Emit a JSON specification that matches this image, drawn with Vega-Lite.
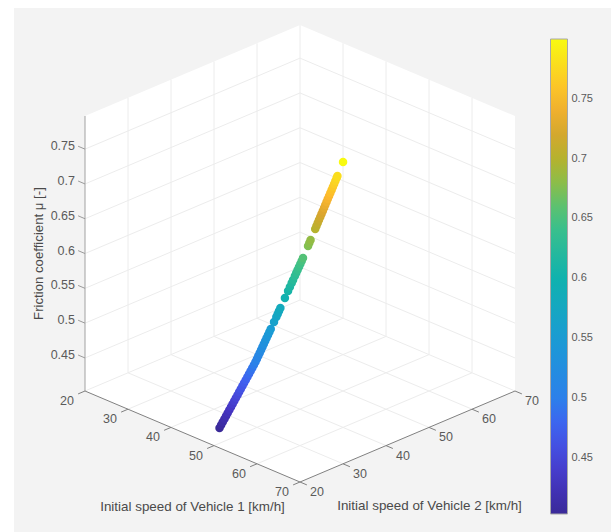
{"$schema":"https://vega.github.io/schema/vega-lite/v6.json","width":597,"height":524,"padding":{"left":14,"top":8,"right":0,"bottom":0},"autosize":"none","background":"white","view":{"fill":"#f3f3f3","stroke":null},
"config":{"text":{"font":"Liberation Sans"},"legend":{"labelFont":"Liberation Sans"}},
"data":{"values":[
{"set":"panel","v1":20,"v2":20,"mu":0.7975,"v1e":20,"v2e":20,"mue":0.4025},
{"set":"panel","v1":20,"v2":70,"mu":0.7975,"v1e":70,"v2e":20,"mue":0.4025},
{"set":"panel","v1":70,"v2":70,"mu":0.7975,"v1e":70,"v2e":70,"mue":0.4025},
{"set":"grid","v1":20,"v2":30,"mu":0.4025,"v1e":20,"v2e":30,"mue":0.7975},
{"set":"grid","v1":20,"v2":40,"mu":0.4025,"v1e":20,"v2e":40,"mue":0.7975},
{"set":"grid","v1":20,"v2":50,"mu":0.4025,"v1e":20,"v2e":50,"mue":0.7975},
{"set":"grid","v1":20,"v2":60,"mu":0.4025,"v1e":20,"v2e":60,"mue":0.7975},
{"set":"grid","v1":20,"v2":70,"mu":0.4025,"v1e":20,"v2e":70,"mue":0.7975},
{"set":"grid","v1":30,"v2":70,"mu":0.4025,"v1e":30,"v2e":70,"mue":0.7975},
{"set":"grid","v1":40,"v2":70,"mu":0.4025,"v1e":40,"v2e":70,"mue":0.7975},
{"set":"grid","v1":50,"v2":70,"mu":0.4025,"v1e":50,"v2e":70,"mue":0.7975},
{"set":"grid","v1":60,"v2":70,"mu":0.4025,"v1e":60,"v2e":70,"mue":0.7975},
{"set":"grid","v1":20,"v2":20,"mu":0.45,"v1e":20,"v2e":70,"mue":0.45},
{"set":"grid","v1":20,"v2":20,"mu":0.5,"v1e":20,"v2e":70,"mue":0.5},
{"set":"grid","v1":20,"v2":20,"mu":0.55,"v1e":20,"v2e":70,"mue":0.55},
{"set":"grid","v1":20,"v2":20,"mu":0.6,"v1e":20,"v2e":70,"mue":0.6},
{"set":"grid","v1":20,"v2":20,"mu":0.65,"v1e":20,"v2e":70,"mue":0.65},
{"set":"grid","v1":20,"v2":20,"mu":0.7,"v1e":20,"v2e":70,"mue":0.7},
{"set":"grid","v1":20,"v2":20,"mu":0.75,"v1e":20,"v2e":70,"mue":0.75},
{"set":"grid","v1":20,"v2":70,"mu":0.45,"v1e":70,"v2e":70,"mue":0.45},
{"set":"grid","v1":20,"v2":70,"mu":0.5,"v1e":70,"v2e":70,"mue":0.5},
{"set":"grid","v1":20,"v2":70,"mu":0.55,"v1e":70,"v2e":70,"mue":0.55},
{"set":"grid","v1":20,"v2":70,"mu":0.6,"v1e":70,"v2e":70,"mue":0.6},
{"set":"grid","v1":20,"v2":70,"mu":0.65,"v1e":70,"v2e":70,"mue":0.65},
{"set":"grid","v1":20,"v2":70,"mu":0.7,"v1e":70,"v2e":70,"mue":0.7},
{"set":"grid","v1":20,"v2":70,"mu":0.75,"v1e":70,"v2e":70,"mue":0.75},
{"set":"grid","v1":20,"v2":20,"mu":0.4025,"v1e":20,"v2e":70,"mue":0.4025},
{"set":"grid","v1":20,"v2":70,"mu":0.4025,"v1e":70,"v2e":70,"mue":0.4025},
{"set":"grid","v1":30,"v2":20,"mu":0.4025,"v1e":30,"v2e":70,"mue":0.4025},
{"set":"grid","v1":40,"v2":20,"mu":0.4025,"v1e":40,"v2e":70,"mue":0.4025},
{"set":"grid","v1":50,"v2":20,"mu":0.4025,"v1e":50,"v2e":70,"mue":0.4025},
{"set":"grid","v1":60,"v2":20,"mu":0.4025,"v1e":60,"v2e":70,"mue":0.4025},
{"set":"grid","v1":20,"v2":30,"mu":0.4025,"v1e":70,"v2e":30,"mue":0.4025},
{"set":"grid","v1":20,"v2":40,"mu":0.4025,"v1e":70,"v2e":40,"mue":0.4025},
{"set":"grid","v1":20,"v2":50,"mu":0.4025,"v1e":70,"v2e":50,"mue":0.4025},
{"set":"grid","v1":20,"v2":60,"mu":0.4025,"v1e":70,"v2e":60,"mue":0.4025},
{"set":"muaxis","v1":20,"v2":20,"mu":0.4025,"v1e":20,"v2e":20,"mue":0.7975},
{"set":"floor","v1":20,"v2":20,"mu":0.4025,"v1e":70,"v2e":20,"mue":0.4025},
{"set":"floor","v1":70,"v2":20,"mu":0.4025,"v1e":70,"v2e":70,"mue":0.4025},
{"set":"floor","v1":20,"v2":20,"mu":0.4025,"v1e":20,"v2e":18.4,"mue":0.4025},
{"set":"floor","v1":30,"v2":20,"mu":0.4025,"v1e":30,"v2e":18.4,"mue":0.4025},
{"set":"floor","v1":40,"v2":20,"mu":0.4025,"v1e":40,"v2e":18.4,"mue":0.4025},
{"set":"floor","v1":50,"v2":20,"mu":0.4025,"v1e":50,"v2e":18.4,"mue":0.4025},
{"set":"floor","v1":60,"v2":20,"mu":0.4025,"v1e":60,"v2e":18.4,"mue":0.4025},
{"set":"floor","v1":70,"v2":20,"mu":0.4025,"v1e":70,"v2e":18.4,"mue":0.4025},
{"set":"floor","v1":70,"v2":20,"mu":0.4025,"v1e":71.6,"v2e":20,"mue":0.4025},
{"set":"floor","v1":70,"v2":30,"mu":0.4025,"v1e":71.6,"v2e":30,"mue":0.4025},
{"set":"floor","v1":70,"v2":40,"mu":0.4025,"v1e":71.6,"v2e":40,"mue":0.4025},
{"set":"floor","v1":70,"v2":50,"mu":0.4025,"v1e":71.6,"v2e":50,"mue":0.4025},
{"set":"floor","v1":70,"v2":60,"mu":0.4025,"v1e":71.6,"v2e":60,"mue":0.4025},
{"set":"floor","v1":70,"v2":70,"mu":0.4025,"v1e":71.6,"v2e":70,"mue":0.4025},
{"set":"mutick","v1":20,"v2":20,"mu":0.45,"v1e":18.4,"v2e":20,"mue":0.45},
{"set":"mutick","v1":20,"v2":20,"mu":0.5,"v1e":18.4,"v2e":20,"mue":0.5},
{"set":"mutick","v1":20,"v2":20,"mu":0.55,"v1e":18.4,"v2e":20,"mue":0.55},
{"set":"mutick","v1":20,"v2":20,"mu":0.6,"v1e":18.4,"v2e":20,"mue":0.6},
{"set":"mutick","v1":20,"v2":20,"mu":0.65,"v1e":18.4,"v2e":20,"mue":0.65},
{"set":"mutick","v1":20,"v2":20,"mu":0.7,"v1e":18.4,"v2e":20,"mue":0.7},
{"set":"mutick","v1":20,"v2":20,"mu":0.75,"v1e":18.4,"v2e":20,"mue":0.75},
{"set":"v1label","v1":20,"v2":20,"mu":0.4025,"label":"20"},
{"set":"v1label","v1":30,"v2":20,"mu":0.4025,"label":"30"},
{"set":"v1label","v1":40,"v2":20,"mu":0.4025,"label":"40"},
{"set":"v1label","v1":50,"v2":20,"mu":0.4025,"label":"50"},
{"set":"v1label","v1":60,"v2":20,"mu":0.4025,"label":"60"},
{"set":"v1label","v1":70,"v2":20,"mu":0.4025,"label":"70"},
{"set":"v2label","v1":70,"v2":20,"mu":0.4025,"label":"20"},
{"set":"v2label","v1":70,"v2":30,"mu":0.4025,"label":"30"},
{"set":"v2label","v1":70,"v2":40,"mu":0.4025,"label":"40"},
{"set":"v2label","v1":70,"v2":50,"mu":0.4025,"label":"50"},
{"set":"v2label","v1":70,"v2":60,"mu":0.4025,"label":"60"},
{"set":"v2label","v1":70,"v2":70,"mu":0.4025,"label":"70"},
{"set":"mulabel","v1":20,"v2":20,"mu":0.45,"label":"0.45"},
{"set":"mulabel","v1":20,"v2":20,"mu":0.5,"label":"0.5"},
{"set":"mulabel","v1":20,"v2":20,"mu":0.55,"label":"0.55"},
{"set":"mulabel","v1":20,"v2":20,"mu":0.6,"label":"0.6"},
{"set":"mulabel","v1":20,"v2":20,"mu":0.65,"label":"0.65"},
{"set":"mulabel","v1":20,"v2":20,"mu":0.7,"label":"0.7"},
{"set":"mulabel","v1":20,"v2":20,"mu":0.75,"label":"0.75"},
{"set":"v1title","v1":45,"v2":20,"mu":0.4025,"label":"Initial speed of Vehicle 1 [km/h]"},
{"set":"v2title","v1":70,"v2":45,"mu":0.4025,"label":"Initial speed of Vehicle 2 [km/h]"},
{"set":"mutitle","v1":20,"v2":20,"mu":0.6,"label":"Friction coefficient μ [-]"},
{"set":"cbtick","cb":0.45},{"set":"cbtick","cb":0.5},{"set":"cbtick","cb":0.55},{"set":"cbtick","cb":0.6},{"set":"cbtick","cb":0.65},{"set":"cbtick","cb":0.7},{"set":"cbtick","cb":0.75},
{"set":"pt","v1":45.9,"v2":25.38,"mu":0.403},
{"set":"pt","v1":46.12,"v2":25.54,"mu":0.4075},
{"set":"pt","v1":46.34,"v2":25.7,"mu":0.412},
{"set":"pt","v1":46.57,"v2":25.86,"mu":0.4164},
{"set":"pt","v1":46.79,"v2":26.01,"mu":0.4209},
{"set":"pt","v1":47.01,"v2":26.17,"mu":0.4254},
{"set":"pt","v1":47.23,"v2":26.33,"mu":0.4299},
{"set":"pt","v1":47.46,"v2":26.49,"mu":0.4343},
{"set":"pt","v1":47.68,"v2":26.65,"mu":0.4388},
{"set":"pt","v1":47.9,"v2":26.81,"mu":0.4433},
{"set":"pt","v1":48.12,"v2":26.97,"mu":0.4478},
{"set":"pt","v1":48.35,"v2":27.13,"mu":0.4522},
{"set":"pt","v1":48.57,"v2":27.28,"mu":0.4567},
{"set":"pt","v1":48.79,"v2":27.44,"mu":0.4612},
{"set":"pt","v1":49.01,"v2":27.6,"mu":0.4657},
{"set":"pt","v1":49.23,"v2":27.76,"mu":0.4701},
{"set":"pt","v1":49.46,"v2":27.92,"mu":0.4746},
{"set":"pt","v1":49.68,"v2":28.08,"mu":0.4791},
{"set":"pt","v1":49.9,"v2":28.24,"mu":0.4836},
{"set":"pt","v1":50.12,"v2":28.4,"mu":0.488},
{"set":"pt","v1":50.35,"v2":28.55,"mu":0.4925},
{"set":"pt","v1":50.57,"v2":28.71,"mu":0.497},
{"set":"pt","v1":50.78,"v2":28.86,"mu":0.5015},
{"set":"pt","v1":50.98,"v2":28.99,"mu":0.5059},
{"set":"pt","v1":51.17,"v2":29.12,"mu":0.5104},
{"set":"pt","v1":51.37,"v2":29.25,"mu":0.5149},
{"set":"pt","v1":51.56,"v2":29.38,"mu":0.5194},
{"set":"pt","v1":51.75,"v2":29.51,"mu":0.5239},
{"set":"pt","v1":51.95,"v2":29.64,"mu":0.5283},
{"set":"pt","v1":52.14,"v2":29.77,"mu":0.5328},
{"set":"pt","v1":52.33,"v2":29.9,"mu":0.5373},
{"set":"pt","v1":52.53,"v2":30.03,"mu":0.5418},
{"set":"pt","v1":52.72,"v2":30.16,"mu":0.5462},
{"set":"pt","v1":52.91,"v2":30.29,"mu":0.5507},
{"set":"pt","v1":53.36,"v2":30.6,"mu":0.5612},
{"set":"pt","v1":53.68,"v2":30.81,"mu":0.5686},
{"set":"pt","v1":53.87,"v2":30.94,"mu":0.5731},
{"set":"pt","v1":54.06,"v2":31.06,"mu":0.5776},
{"set":"pt","v1":54.25,"v2":31.19,"mu":0.582},
{"set":"pt","v1":54.88,"v2":31.61,"mu":0.597},
{"set":"pt","v1":55.32,"v2":31.91,"mu":0.6074},
{"set":"pt","v1":55.58,"v2":32.07,"mu":0.6134},
{"set":"pt","v1":55.83,"v2":32.24,"mu":0.6193},
{"set":"pt","v1":56.02,"v2":32.37,"mu":0.6238},
{"set":"pt","v1":56.27,"v2":32.54,"mu":0.6298},
{"set":"pt","v1":56.46,"v2":32.66,"mu":0.6343},
{"set":"pt","v1":56.65,"v2":32.79,"mu":0.6387},
{"set":"pt","v1":56.84,"v2":32.92,"mu":0.6432},
{"set":"pt","v1":57.03,"v2":33.04,"mu":0.6477},
{"set":"pt","v1":57.22,"v2":33.17,"mu":0.6522},
{"set":"pt","v1":57.41,"v2":33.29,"mu":0.6566},
{"set":"pt","v1":58.12,"v2":33.75,"mu":0.6746},
{"set":"pt","v1":58.3,"v2":33.86,"mu":0.679},
{"set":"pt","v1":58.48,"v2":33.98,"mu":0.6835},
{"set":"pt","v1":59.14,"v2":34.4,"mu":0.7},
{"set":"pt","v1":59.31,"v2":34.51,"mu":0.7044},
{"set":"pt","v1":59.49,"v2":34.63,"mu":0.7089},
{"set":"pt","v1":59.67,"v2":34.74,"mu":0.7134},
{"set":"pt","v1":59.85,"v2":34.86,"mu":0.7178},
{"set":"pt","v1":60.03,"v2":34.97,"mu":0.7223},
{"set":"pt","v1":60.21,"v2":35.09,"mu":0.7268},
{"set":"pt","v1":60.39,"v2":35.2,"mu":0.7312},
{"set":"pt","v1":60.56,"v2":35.31,"mu":0.7357},
{"set":"pt","v1":60.74,"v2":35.43,"mu":0.7402},
{"set":"pt","v1":60.92,"v2":35.54,"mu":0.7447},
{"set":"pt","v1":61.1,"v2":35.66,"mu":0.7491},
{"set":"pt","v1":61.28,"v2":35.77,"mu":0.7536},
{"set":"pt","v1":61.46,"v2":35.89,"mu":0.7581},
{"set":"pt","v1":61.64,"v2":36,"mu":0.7626},
{"set":"pt","v1":61.82,"v2":36.12,"mu":0.767},
{"set":"pt","v1":61.99,"v2":36.23,"mu":0.7715},
{"set":"pt","v1":62.17,"v2":36.35,"mu":0.776},
{"set":"pt","v1":62.29,"v2":36.42,"mu":0.779},
{"set":"pt","v1":63.09,"v2":36.92,"mu":0.8}
]},
"transform":[
{"calculate":"85+4.3*(datum.v1+datum.v2-40)","as":"px"},
{"calculate":"391+1.82*(datum.v1-datum.v2)-(datum.mu-0.4025)*696","as":"py"},
{"calculate":"85+4.3*(datum.v1e+datum.v2e-40)","as":"pxe"},
{"calculate":"391+1.82*(datum.v1e-datum.v2e)-(datum.mue-0.4025)*696","as":"pye"},
{"calculate":"39+(0.7997-datum.cb)*1200","as":"cby"}
],
"encoding":{
"x":{"field":"px","type":"quantitative","scale":{"domain":[14,611],"nice":false,"zero":false},"axis":null},
"y":{"field":"py","type":"quantitative","scale":{"domain":[532,8],"nice":false,"zero":false},"axis":null}
},
"layer":[
{"transform":[{"filter":"datum.set==='panel'"}],"mark":{"type":"area","fill":"white","orient":"vertical"},"encoding":{"y2":{"field":"pye"}}},
{"transform":[{"filter":"datum.set==='grid'"}],"mark":{"type":"rule","stroke":"#ececec","strokeWidth":1},"encoding":{"x2":{"field":"pxe"},"y2":{"field":"pye"}}},
{"transform":[{"filter":"datum.set==='muaxis'"}],"mark":{"type":"rule","stroke":"#b0b0b0","strokeWidth":1.2},"encoding":{"x2":{"field":"pxe"},"y2":{"field":"pye"}}},
{"transform":[{"filter":"datum.set==='mutick'"}],"mark":{"type":"rule","stroke":"#9a9a9a","strokeWidth":1},"encoding":{"x2":{"field":"pxe"},"y2":{"field":"pye"}}},
{"transform":[{"filter":"datum.set==='floor'"}],"mark":{"type":"rule","stroke":"#808080","strokeWidth":1},"encoding":{"x2":{"field":"pxe"},"y2":{"field":"pye"}}},
{"transform":[{"filter":"datum.set==='pt'"}],"mark":{"type":"circle","size":72,"opacity":1},"encoding":{"color":{"field":"mu","type":"quantitative","scale":{"interpolate":"rgb","domain":[0.403,0.43,0.45,0.475,0.5,0.55,0.6,0.65,0.675,0.7,0.725,0.75,0.775,0.8],"range":["#3a2a98","#4433c0","#4746d8","#4060f0","#2c80ea","#1a9cd4","#10b2ae","#42c285","#82c050","#b5b22e","#dba52e","#fdb82e","#fad820","#f8fa10"]},"legend":{"title":null,"orient":"none","legendX":536.5,"legendY":31,"padding":0,"direction":"vertical","gradientLength":475,"gradientThickness":17,"gradientStrokeColor":"#a8a8a8","gradientStrokeWidth":1,"values":[0.45,0.5,0.55,0.6,0.65,0.7,0.75],"labelExpr":"format(datum.value,'.2~f')","labelFontSize":11,"labelColor":"#5a5a5a","labelOffset":4,"labelOverlap":false}}}},
{"transform":[{"filter":"datum.set==='cbtick'"}],"mark":{"type":"rule","stroke":"#555555","strokeWidth":1},"encoding":{"x":{"datum":563},"x2":{"datum":567},"y":{"field":"cby","type":"quantitative"}}},
{"transform":[{"filter":"datum.set==='v1label'"}],"mark":{"type":"text","fontSize":12.5,"color":"#5a5a5a","align":"center","baseline":"middle","dx":-18,"dy":10},"encoding":{"text":{"field":"label"}}},
{"transform":[{"filter":"datum.set==='v2label'"}],"mark":{"type":"text","fontSize":12.5,"color":"#5a5a5a","align":"center","baseline":"middle","dx":17,"dy":10},"encoding":{"text":{"field":"label"}}},
{"transform":[{"filter":"datum.set==='mulabel'"}],"mark":{"type":"text","fontSize":12.5,"color":"#5a5a5a","align":"right","baseline":"middle","dx":-10,"dy":-3},"encoding":{"text":{"field":"label"}}},
{"transform":[{"filter":"datum.set==='v1title'"}],"mark":{"type":"text","fontSize":13.4,"color":"#4a4a4a","align":"center","baseline":"middle","dx":0,"dy":70},"encoding":{"text":{"field":"label"}}},
{"transform":[{"filter":"datum.set==='v2title'"}],"mark":{"type":"text","fontSize":13.4,"color":"#4a4a4a","align":"center","baseline":"middle","dx":22,"dy":69},"encoding":{"text":{"field":"label"}}},
{"transform":[{"filter":"datum.set==='mutitle'"}],"mark":{"type":"text","fontSize":13.2,"color":"#4a4a4a","align":"center","baseline":"middle","angle":270,"dy":-46},"encoding":{"text":{"field":"label"}}}
]}
